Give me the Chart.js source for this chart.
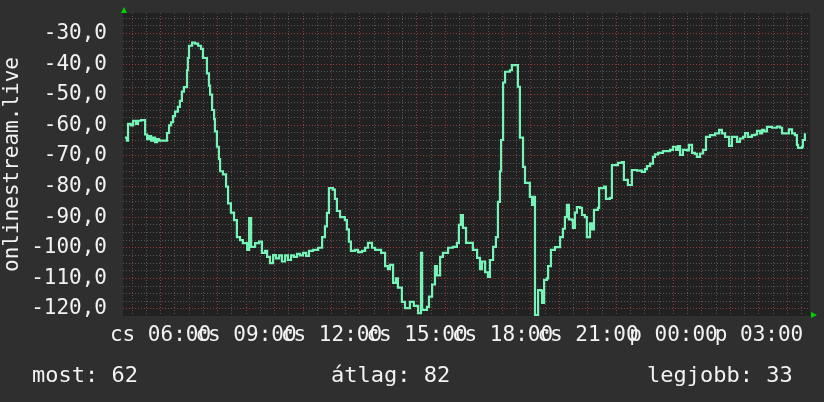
<!DOCTYPE html>
<html>
<head>
<meta charset="utf-8">
<script src="https://cdn.jsdelivr.net/npm/chart.js@4.4.0/dist/chart.umd.min.js"></script>
<style>
html, body { margin: 0; padding: 0; background: #2f2f2f; }
</style>
</head>
<body>
<canvas id="grafica" width="824" height="402"></canvas>
<script>
// idő (óra, a kezdőnap éjfelétől), 24 felett már a következő nap
var hours = [
    4.75,4.82,4.86,4.96,5.04,5.14,5.21,5.32,5.46,5.53,5.60,5.67,5.74,5.81,5.88,5.95,
    6.23,6.30,6.37,6.44,6.51,6.61,6.68,6.75,6.82,6.93,6.96,7.00,7.11,7.21,7.32,7.42,7.49,
    7.63,7.70,7.74,7.81,7.88,7.91,7.98,8.05,8.09,8.19,8.30,8.37,8.47,8.58,8.68,8.79,8.89,9.04,
    9.11,9.18,9.32,9.46,9.56,9.67,9.74,9.84,9.95,10.05,10.16,10.26,10.37,10.47,10.58,10.68,10.79,10.89,11.00,11.11,11.21,
    11.35,11.53,11.67,11.77,11.84,11.91,12.05,12.12,12.19,12.30,12.47,12.54,12.61,12.68,12.82,12.93,13.07,13.18,13.28,13.42,13.53,
    13.74,13.88,13.98,14.05,14.16,14.26,14.33,14.47,14.58,14.75,14.89,15.04,15.14,15.18,15.35,15.42,15.53,15.63,15.70,15.81,15.91,
    16.09,16.26,16.40,16.47,16.54,16.61,16.72,16.96,17.11,17.21,17.28,17.39,17.49,17.56,17.67,17.77,17.84,17.91,17.95,18.02,18.09,18.26,18.33,
    18.54,18.61,18.72,18.79,18.96,19.04,19.11,19.14,19.25,19.35,19.39,19.46,19.56,19.60,19.70,19.84,
    20.02,20.12,20.19,20.26,20.33,20.44,20.47,20.54,20.61,20.72,20.79,20.89,20.96,21.07,21.14,21.21,21.35,21.39,21.56,21.63,21.77,
    21.84,21.95,22.05,22.19,22.26,22.40,22.54,22.72,22.89,23.00,23.07,23.18,23.28,23.35,23.46,23.63,23.88,
    23.98,24.09,24.16,24.23,24.33,24.47,24.54,24.65,24.75,24.82,24.93,25.04,25.14,25.28,25.46,25.60,25.70,25.81,25.95,
    26.05,26.23,26.33,26.44,26.51,26.61,26.75,26.86,26.93,27.04,27.11,27.18,27.28,27.46,27.63,27.74,27.81,27.98,28.05,28.16,28.26,28.33,28.37,28.51,28.54,28.61
];

// jelszint (dBm)
var values = [
    -64,-65,-59.5,-60,-58.5,-59.5,-58.5,-58.3,-63,-64.5,-63.5,-65,-64,-65.5,-64.5,-65,
    -62.5,-60,-59,-57,-55.5,-54,-52,-49,-47.5,-42,-38,-34,-33,-33.3,-34,-35,-38,
    -43,-47,-50,-55,-58,-62,-67,-71,-75,-76,-80,-85.5,-88.5,-91,-96.5,-97.5,-98.5,-100.7,
    -90.3,-99.7,-98.5,-98,-101.7,-101,-103,-105,-102.4,-103.5,-102.5,-104.5,-102.5,-104,-102.5,-103,-102,-102.5,-101.7,-102.7,-101,
    -100.7,-100,-96.5,-93,-88.6,-80.5,-81,-84,-88,-90,-91,-94,-98,-101,-100.7,-101.4,-101,-100,-98.4,-100,-100.7,
    -101.7,-106,-107,-105.6,-111.5,-110,-113,-117.7,-119.7,-117.7,-119,-121.4,-101.7,-120.3,-119.3,-116,-112,-106,-109,-103,-101.7,
    -100,-99.7,-98.4,-92.5,-89.3,-93.5,-98.4,-100.7,-103.3,-107,-104.5,-108,-109.5,-104,-99.7,-96.5,-85,-75,-64.8,-46,-42.5,-42,-40.3,
    -47.4,-64,-73.6,-78.8,-83.4,-86,-83.4,-122,-113.8,-114,-118,-110.5,-110,-106,-100.7,-99.8,
    -96.5,-93.8,-90,-86,-90.7,-91,-93.5,-88.5,-86.7,-87,-89.3,-90,-96.5,-92,-94,-87.6,-87,-80.5,-80,-84,-83.7,
    -73,-73,-72.3,-72,-77.8,-79.5,-74.6,-74.8,-75.2,-74.3,-73.3,-72.5,-70.3,-69.5,-69,-68.4,-68,
    -67,-68,-66.8,-69.7,-68,-68.2,-66.4,-69,-69.3,-70.3,-69.2,-68,-63.8,-63.2,-62.6,-61.5,-62.6,-63.8,-66.7,
    -63.8,-65.4,-64.3,-63.8,-62.5,-63.8,-63.2,-63,-61.8,-62.6,-61.5,-62,-60.5,-60.8,-60.4,-60.8,-62.6,-62.6,-61.3,-62.6,-63.2,-66.4,-67.4,-67,-64.8,-62.6
];

var xTickHours = [6, 9, 12, 15, 18, 21, 24, 27];
var xTickLabels = ['cs 06:00', 'cs 09:00', 'cs 12:00', 'cs 15:00', 'cs 18:00', 'cs 21:00', 'p 00:00', 'p 03:00'];
var footerLabels = ['most: 62', 'átlag: 82', 'legjobb: 33'];

var textColor = '#f2f2f2';
var majorGrid = '#8e3b3b';
var minorGrid = '#555555';
var fontName = 'DejaVu Sans Mono';

var points = [];
for (var i = 0; i < hours.length; i++) {
    points.push({x: hours[i], y: values[i]});
}

var hatter = {
    id: 'hatter',
    beforeDraw: function(chart) {
        var ctx = chart.ctx, a = chart.chartArea;
        ctx.save();
        ctx.fillStyle = '#2f2f2f';
        ctx.fillRect(0, 0, chart.width, chart.height);
        ctx.fillStyle = '#212121';
        ctx.fillRect(a.left, a.top, a.right - a.left, a.bottom - a.top);
        ctx.restore();
    },
    afterDraw: function(chart) {
        var ctx = chart.ctx, a = chart.chartArea;
        ctx.save();
        // nyilak a tengelyek végén
        ctx.fillStyle = '#00d200';
        ctx.beginPath();
        ctx.moveTo(a.left - 2, a.top);
        ctx.lineTo(a.left + 4, a.top);
        ctx.lineTo(a.left + 1, a.top - 6);
        ctx.closePath();
        ctx.fill();
        ctx.beginPath();
        ctx.moveTo(a.right + 1, a.bottom - 4);
        ctx.lineTo(a.right + 1, a.bottom + 2);
        ctx.lineTo(a.right + 7, a.bottom - 1);
        ctx.closePath();
        ctx.fill();

        ctx.fillStyle = textColor;
        ctx.font = '22px "' + fontName + '"';
        ctx.textBaseline = 'alphabetic';
        ctx.textAlign = 'left';
        ctx.fillText(footerLabels[0], 32, 382);
        ctx.fillText(footerLabels[1], 331, 382);
        ctx.fillText(footerLabels[2], 647, 382);
        ctx.restore();
    }
};

var chart = new Chart(document.getElementById('grafica').getContext('2d'), {
    type: 'line',
    data: {
        datasets: [{
            data: points,
            borderColor: '#76f4b8',
            borderWidth: 2.2,
            pointRadius: 0,
            stepped: true,
            fill: false
        }]
    },
    options: {
        responsive: false,
        animation: false,
        devicePixelRatio: 1,
        layout: {padding: {top: 13, right: 14, left: 0, bottom: 0}},
        plugins: {legend: {display: false}, tooltip: {enabled: false}},
        scales: {
            x: {
                type: 'linear',
                min: 4.684,
                max: 28.79,
                afterBuildTicks: function(s) {
                    s.ticks = [];
                    for (var k = 0; k <= 47; k++) s.ticks.push({value: 5 + k * 0.5});
                },
                afterFit: function(s) {
                    s.height = 86;
                    s.paddingLeft = 0;
                    s.paddingRight = 0;
                },
                border: {display: false, dash: [1, 2]},
                grid: {
                    drawTicks: false,
                    color: function(c) { return Number.isInteger(c.tick.value) ? majorGrid : minorGrid; }
                },
                ticks: {
                    autoSkip: false,
                    maxRotation: 0,
                    padding: 7,
                    color: textColor,
                    font: {family: fontName, size: 21},
                    callback: function(v) {
                        var i = xTickHours.indexOf(v);
                        return i < 0 ? '' : xTickLabels[i];
                    }
                }
            },
            y: {
                min: -122.3,
                max: -23.3,
                afterBuildTicks: function(s) {
                    s.ticks = [];
                    for (var k = 0; k <= 38; k++) s.ticks.push({value: -120 + k * 2.5});
                },
                afterFit: function(s) {
                    s.width = 123;
                    s.paddingTop = 0;
                    s.paddingBottom = 0;
                },
                border: {display: false, dash: [1, 2]},
                grid: {
                    drawTicks: false,
                    color: function(c) { return c.tick.value % 10 === 0 ? majorGrid : minorGrid; }
                },
                title: {
                    display: true,
                    text: 'onlinestream.live',
                    color: textColor,
                    font: {family: fontName, size: 21},
                    padding: 0
                },
                ticks: {
                    autoSkip: false,
                    padding: 16,
                    color: textColor,
                    font: {family: fontName, size: 21},
                    callback: function(v) {
                        return v % 10 === 0 ? v.toFixed(1).replace('.', ',') : '';
                    }
                }
            }
        }
    },
    plugins: [hatter]
});
</script>
</body>
</html>
